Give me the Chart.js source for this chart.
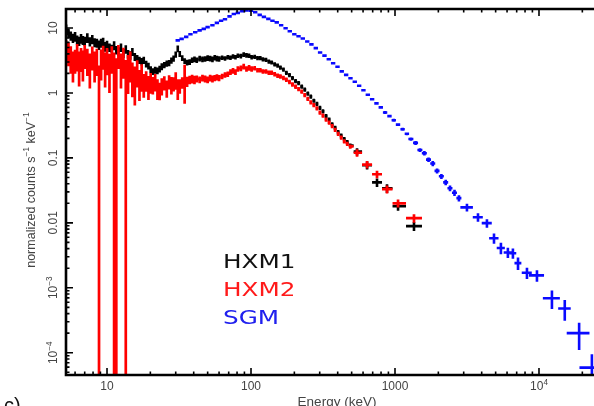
<!DOCTYPE html>
<html>
<head>
<meta charset="utf-8">
<title>HXM / SGM spectrum</title>
<script src="https://cdn.jsdelivr.net/npm/chart.js@4.4.1/dist/chart.umd.min.js"></script>
<style>
  html, body { margin: 0; padding: 0; background: #fff; overflow: hidden; }
  #wrap { width: 594px; height: 406px; }
</style>
</head>
<body>
<div id="wrap"><canvas id="spectrum" width="594" height="406"></canvas></div>
<script>
// HXM bin centres (keV), shared by both HXM detectors
const hxmEnergy = [
  5.2, 5.4, 5.6, 5.8, 6.0, 6.2, 6.4, 6.6, 6.8, 7.0,
  7.3, 7.6, 7.9, 8.2, 8.5, 8.8, 9.1, 9.4, 9.7,
  10, 10.4, 10.8, 11.2, 11.6, 12, 12.5, 13, 13.5, 14, 14.5,
  15, 15.6, 16.2, 16.8, 17.4, 18, 18.7, 19.4, 20.1, 20.8, 21.6, 22.4, 23.2, 24,
  25, 26, 27, 28, 29, 30, 31, 32,
  33.3, 34.6, 36, 37.5, 39, 40.5, 42, 44, 46, 48, 50, 52, 54, 56, 58, 60,
  63, 66, 69, 72, 75, 78, 81, 85, 89, 93, 97, 101,
  106, 111, 116, 121, 127, 133, 139, 146, 153, 160, 168, 176, 185, 194, 204, 214, 225,
  236, 248, 260, 273, 287, 301, 316, 332, 349, 366, 384, 403, 423, 444, 466, 489,
  545, 640, 750, 880, 1050, 1355
];

// normalized counts s^-1 keV^-1
const hxm1Counts = [
  9.6, 8.4, 7.6, 7.0, 7.4, 6.6, 6.3, 6.9, 6.5, 6.3,
  7.1, 6.2, 6.7, 6.0, 5.9, 5.5, 5.9, 6.1, 5.2,
  5.5, 5.0, 4.8, 5.4, 4.6, 4.4, 5.0, 4.1, 4.7, 4.0, 3.8,
  4.3, 3.6, 3.4, 3.2, 3.05, 3.2, 2.8, 2.6, 2.3, 2.15, 2.25, 2.2, 2.35, 2.55,
  2.7, 2.85, 2.9, 3.15, 3.4, 3.9, 4.8, 4.0,
  3.45, 3.1, 2.95, 3.0, 3.2, 3.3, 3.2, 3.4, 3.3, 3.35, 3.45, 3.4, 3.3, 3.5, 3.4, 3.35,
  3.5, 3.4, 3.55, 3.5, 3.65, 3.55, 3.75, 3.7, 3.9, 3.8, 3.75, 3.55,
  3.6, 3.45, 3.45, 3.3, 3.25, 3.05, 2.95, 2.75, 2.65, 2.45, 2.3, 2.05, 1.88, 1.7, 1.52, 1.42, 1.25,
  1.13, 0.98, 0.88, 0.76, 0.68, 0.59, 0.52, 0.44, 0.39, 0.33, 0.29, 0.25, 0.22, 0.195, 0.175, 0.155,
  0.125, 0.077, 0.042, 0.034, 0.018, 0.0089
];
// relative 1-sigma errors
const hxm1Err = [
  0.18, 0.17, 0.16, 0.16, 0.17, 0.16, 0.16, 0.17, 0.16, 0.16,
  0.17, 0.16, 0.16, 0.16, 0.16, 0.17, 0.16, 0.16, 0.17,
  0.16, 0.15, 0.15, 0.16, 0.15, 0.15, 0.15, 0.16, 0.15, 0.15, 0.15,
  0.14, 0.14, 0.13, 0.13, 0.13, 0.13, 0.12, 0.12, 0.12, 0.12, 0.12, 0.12, 0.12, 0.12,
  0.11, 0.11, 0.11, 0.11, 0.11, 0.11, 0.12, 0.11,
  0.1, 0.1, 0.1, 0.1, 0.1, 0.1, 0.1, 0.1, 0.1, 0.1, 0.1, 0.1, 0.1, 0.1, 0.1, 0.1,
  0.08, 0.08, 0.08, 0.08, 0.08, 0.08, 0.08, 0.08, 0.08, 0.08, 0.08, 0.08,
  0.075, 0.075, 0.075, 0.075, 0.075, 0.075, 0.075, 0.075, 0.075, 0.075, 0.075, 0.075, 0.075, 0.075, 0.075, 0.075, 0.075,
  0.075, 0.075, 0.075, 0.075, 0.075, 0.075, 0.075, 0.075, 0.075, 0.075, 0.075, 0.075, 0.075, 0.075, 0.075, 0.075,
  0.13, 0.14, 0.15, 0.15, 0.15, 0.16
];

const hxm2Counts = [
  4.8, 4.3, 3.6, 2.9, 3.3, 3.9, 2.8, 3.5, 3.0, 3.9,
  3.3, 2.6, 3.7, 2.9, 3.3, 0.42, 3.1, 3.8, 2.7,
  3.4, 2.5, 3.6, 1.0, 1.2, 3.9, 2.6, 3.3, 0.33, 2.4, 2.9,
  1.9, 1.6, 2.2, 1.5, 1.9, 1.4, 1.6, 1.3, 1.5, 1.35, 1.5, 1.2, 1.1, 1.3,
  1.45, 1.2, 1.5, 1.35, 1.4, 1.6, 1.2, 1.3,
  1.45, 1.7, 1.5, 1.6, 1.65, 1.6, 1.65, 1.6, 1.7, 1.65, 1.6, 1.7, 1.65, 1.7, 1.75, 1.7,
  1.8, 1.9, 1.95, 2.1, 2.2, 2.1, 2.35, 2.4, 2.55, 2.35, 2.45, 2.35,
  2.4, 2.25, 2.25, 2.15, 2.15, 2.05, 2.05, 1.95, 1.85, 1.8, 1.7, 1.6, 1.48, 1.35, 1.25, 1.15, 1.05,
  0.93, 0.81, 0.72, 0.65, 0.58, 0.5, 0.45, 0.39, 0.35, 0.31, 0.27, 0.235, 0.205, 0.18, 0.165, 0.15,
  0.12, 0.079, 0.056, 0.033, 0.020, 0.0118
];
const hxm2Err = [
  0.35, 0.4, 0.45, 0.5, 0.4, 0.45, 0.55, 0.4, 0.5, 0.4,
  0.45, 0.55, 0.4, 0.5, 0.45, 5.3, 0.5, 0.4, 0.55,
  0.45, 0.6, 0.45, 3.2, 1.85, 0.4, 0.55, 0.5, 8.7, 0.6, 0.5,
  0.55, 0.6, 0.45, 0.5, 0.45, 0.4, 0.35, 0.4, 0.35, 0.3, 0.3, 0.35, 0.3, 0.3,
  0.25, 0.3, 0.25, 0.3, 0.25, 0.3, 0.35, 0.25,
  0.2, 0.6, 0.18, 0.15, 0.15, 0.15, 0.12, 0.12, 0.12, 0.12, 0.12, 0.12, 0.12, 0.11, 0.11, 0.11,
  0.1, 0.1, 0.1, 0.1, 0.1, 0.1, 0.1, 0.1, 0.1, 0.1, 0.1, 0.1,
  0.08, 0.08, 0.08, 0.08, 0.08, 0.08, 0.08, 0.08, 0.08, 0.08, 0.08, 0.08, 0.08, 0.08, 0.08, 0.075, 0.075,
  0.075, 0.075, 0.075, 0.075, 0.075, 0.075, 0.075, 0.075, 0.075, 0.075, 0.075, 0.075, 0.075, 0.075, 0.075, 0.075,
  0.13, 0.13, 0.13, 0.14, 0.14, 0.15
];

const sgmEnergy = [
  31, 33, 35.5, 38, 41, 44, 47, 50, 54, 58,
  62, 66, 71, 76, 81, 87, 93, 100, 107, 115,
  123, 132, 141, 151, 162, 174, 186, 200, 214, 229,
  246, 263, 282, 302, 324, 347, 372, 399, 427, 458,
  491, 526, 564, 604, 648, 694, 744, 797,
  854, 916, 981, 1050, 1130, 1210,
  1290, 1390, 1490, 1600, 1710, 1830, 1960, 2100, 2250, 2410, 2590, 2780,
  3160, 3770, 4350, 4870, 5440, 6080, 6590, 7150, 8250, 9680, 12300, 15100, 19000, 23300
];
const sgmCounts = [
  6.45, 6.8, 7.3, 8.0, 8.6, 9.2, 9.7, 10.3, 11.0, 12.0,
  12.9, 13.6, 15.1, 16.4, 17.1, 18.1, 18.7, 18.4, 17.5, 15.9,
  14.8, 13.8, 12.9, 12.2, 11.0, 9.9, 8.9, 8.0, 7.45, 6.9,
  6.2, 5.6, 4.9, 4.2, 3.75, 3.3, 2.86, 2.53, 2.15, 1.9,
  1.68, 1.49, 1.29, 1.1, 0.94, 0.80, 0.69, 0.60,
  0.50, 0.44, 0.38, 0.325, 0.276, 0.235,
  0.195, 0.17, 0.132, 0.118, 0.094, 0.082, 0.063, 0.052, 0.042, 0.034, 0.029, 0.024,
  0.0173, 0.0122, 0.0099, 0.0058, 0.0041, 0.0035, 0.0034, 0.0024, 0.0017, 0.00155, 0.00069, 0.00048, 0.0002, 0.000059
];
const sgmErr = [
  0.045, 0.045, 0.045, 0.045, 0.045, 0.045, 0.045, 0.045, 0.045, 0.045,
  0.045, 0.045, 0.045, 0.045, 0.045, 0.045, 0.045, 0.045, 0.045, 0.045,
  0.045, 0.045, 0.045, 0.045, 0.045, 0.045, 0.045, 0.045, 0.045, 0.045,
  0.045, 0.045, 0.045, 0.045, 0.045, 0.045, 0.045, 0.045, 0.045, 0.045,
  0.045, 0.045, 0.045, 0.045, 0.045, 0.045, 0.045, 0.045,
  0.05, 0.05, 0.05, 0.05, 0.05, 0.05,
  0.06, 0.07, 0.07, 0.08, 0.08, 0.09, 0.09, 0.09, 0.1, 0.1, 0.11, 0.11,
  0.14, 0.15, 0.15, 0.18, 0.2, 0.18, 0.18, 0.22, 0.2, 0.2, 0.32, 0.35, 0.45, 0.6
];
// SGM energy half-widths, relative to the bin centre
const sgmXErr = [
  0.035, 0.035, 0.035, 0.035, 0.035, 0.035, 0.035, 0.035, 0.035, 0.035,
  0.035, 0.035, 0.035, 0.035, 0.035, 0.035, 0.035, 0.035, 0.035, 0.035,
  0.035, 0.035, 0.035, 0.035, 0.035, 0.035, 0.035, 0.035, 0.035, 0.035,
  0.035, 0.035, 0.035, 0.035, 0.035, 0.035, 0.035, 0.035, 0.035, 0.035,
  0.035, 0.035, 0.035, 0.035, 0.035, 0.035, 0.035, 0.035,
  0.035, 0.035, 0.035, 0.035, 0.035, 0.035,
  0.04, 0.04, 0.04, 0.04, 0.04, 0.04, 0.04, 0.04, 0.04, 0.04, 0.04, 0.04,
  0.1, 0.08, 0.08, 0.075, 0.065, 0.065, 0.055, 0.055, 0.08, 0.12, 0.135, 0.1, 0.18, 0.18
];

// axes
const xMin = 5.19, xMax = 24100;
const yMin = 4.54e-5, yMax = 19.6;
const xTicks = [10, 100, 1000, 10000];
const xTickLabels = ['10', '100', '1000', '10^{4}'];
const yTicks = [1e-4, 1e-3, 0.01, 0.1, 1, 10];
const yTickLabels = ['10^{−4}', '10^{−3}', '0.01', '0.1', '1', '10'];

function makePoints(energy, counts, err, xErr) {
  return energy.map((e, i) => ({
    x: e,
    y: counts[i],
    err: counts[i] * err[i],
    xErr: xErr ? e * xErr[i] : null
  }));
}

// splits "s^{-1}" style strings into normal / superscript runs
function richParts(str) {
  const parts = [];
  const re = /\^\{([^}]*)\}/g;
  let last = 0, m;
  while ((m = re.exec(str))) {
    if (m.index > last) parts.push({ t: str.slice(last, m.index), sup: false });
    parts.push({ t: m[1], sup: true });
    last = re.lastIndex;
  }
  if (last < str.length) parts.push({ t: str.slice(last), sup: false });
  return parts;
}

function drawRich(ctx, str, cx, cy, size) {
  const font = s => s + 'px "Liberation Sans", Arial, sans-serif';
  const supSize = size * 0.68;
  const parts = richParts(str);
  let total = 0;
  parts.forEach(p => {
    ctx.font = font(p.sup ? supSize : size);
    p.w = ctx.measureText(p.t).width;
    total += p.w;
  });
  let x = cx - total / 2;
  const base = cy + size * 0.36;
  ctx.textAlign = 'left';
  ctx.textBaseline = 'alphabetic';
  parts.forEach(p => {
    ctx.font = font(p.sup ? supSize : size);
    ctx.fillText(p.t, x, p.sup ? base - size * 0.42 : base);
    x += p.w;
  });
}

// crosses: energy bin horizontally, +/- error vertically
const errorBars = {
  id: 'errorBars',
  afterDatasetsDraw(chart) {
    const { ctx, chartArea: area } = chart;
    const xs = chart.scales.x, ys = chart.scales.y;
    ctx.save();
    ctx.beginPath();
    ctx.rect(area.left, area.top, area.right - area.left, area.bottom - area.top);
    ctx.clip();
    chart.data.datasets.forEach(ds => {
      const pts = ds.data;
      ctx.strokeStyle = ds.borderColor;
      ctx.lineWidth = ds.barWidth;
      ctx.lineCap = 'butt';
      ctx.beginPath();
      pts.forEach((p, i) => {
        let x0, x1;
        if (p.xErr !== null) {
          x0 = xs.getPixelForValue(p.x - p.xErr);
          x1 = xs.getPixelForValue(p.x + p.xErr);
        } else {
          // contiguous bins: edges halfway (in log) to the neighbours
          const lx = Math.log10(p.x);
          const prev = i > 0 ? Math.log10(pts[i - 1].x) : null;
          const next = i < pts.length - 1 ? Math.log10(pts[i + 1].x) : null;
          const dl = prev !== null ? (lx - prev) / 2 : (next - lx) / 2;
          const dr = next !== null ? (next - lx) / 2 : (lx - prev) / 2;
          x0 = xs.getPixelForValue(Math.pow(10, lx - dl));
          x1 = xs.getPixelForValue(Math.pow(10, lx + dr));
        }
        const px = xs.getPixelForValue(p.x);
        const py = ys.getPixelForValue(p.y);
        const top = ys.getPixelForValue(p.y + p.err);
        const lo = p.y - p.err;
        const bot = lo > 0 ? ys.getPixelForValue(lo) : area.bottom;
        ctx.moveTo(x0, py);
        ctx.lineTo(x1, py);
        ctx.moveTo(px, top);
        ctx.lineTo(px, bot);
      });
      ctx.stroke();
    });
    ctx.restore();
  }
};

function minorTicks(lo, hi) {
  const out = [];
  for (let d = Math.floor(Math.log10(lo)); d <= Math.ceil(Math.log10(hi)); d++) {
    for (let k = 1; k <= 9; k++) {
      const v = k * Math.pow(10, d);
      if (v >= lo && v <= hi) out.push({ v, major: k === 1 });
    }
  }
  return out;
}

// frame, inward ticks, labels, titles and the coloured legend
const frame = {
  id: 'frame',
  afterDraw(chart) {
    const { ctx, chartArea: area } = chart;
    const xs = chart.scales.x, ys = chart.scales.y;
    ctx.save();

    ctx.strokeStyle = '#000';
    ctx.lineWidth = 1.6;
    ctx.beginPath();
    minorTicks(xMin, xMax).forEach(t => {
      const px = xs.getPixelForValue(t.v);
      const len = t.major ? 7 : 3.5;
      ctx.moveTo(px, area.top);
      ctx.lineTo(px, area.top + len);
      ctx.moveTo(px, area.bottom);
      ctx.lineTo(px, area.bottom - len);
    });
    minorTicks(yMin, yMax).forEach(t => {
      const py = ys.getPixelForValue(t.v);
      const len = t.major ? 7 : 3.5;
      ctx.moveTo(area.left, py);
      ctx.lineTo(area.left + len, py);
    });
    ctx.stroke();

    ctx.lineWidth = 2.6;
    ctx.beginPath();
    ctx.moveTo(area.right + 2, area.top);
    ctx.lineTo(area.left, area.top);
    ctx.lineTo(area.left, area.bottom);
    ctx.lineTo(area.right + 2, area.bottom);
    ctx.stroke();

    ctx.fillStyle = '#444';
    xTicks.forEach((v, i) => {
      drawRich(ctx, xTickLabels[i], xs.getPixelForValue(v), 386, 12);
    });
    yTicks.forEach((v, i) => {
      ctx.save();
      ctx.translate(53, ys.getPixelForValue(v));
      ctx.rotate(-Math.PI / 2);
      drawRich(ctx, yTickLabels[i], 0, 0, 12);
      ctx.restore();
    });

    ctx.save();
    ctx.translate(30, 190);
    ctx.rotate(-Math.PI / 2);
    drawRich(ctx, 'normalized counts s^{−1} keV^{−1}', 0, 0, 12.5);
    ctx.restore();

    drawRich(ctx, 'Energy (keV)', 337, 401, 13.5);

    ctx.fillStyle = '#111';
    ctx.font = '20px "Liberation Sans", Arial, sans-serif';
    ctx.textAlign = 'left';
    ctx.textBaseline = 'alphabetic';
    ctx.fillText('c)', 4, 412);

    // legend text in the series colours
    const rows = [262, 290, 318];
    chart.data.datasets.forEach((ds, i) => {
      ctx.save();
      ctx.translate(223, rows[i]);
      ctx.scale(1.3, 1);
      ctx.fillStyle = ds.legendColor;
      ctx.font = '19px "DejaVu Sans", Verdana, sans-serif';
      ctx.textAlign = 'left';
      ctx.textBaseline = 'middle';
      ctx.fillText(ds.label, 0, 1);
      ctx.restore();
    });

    ctx.restore();
  }
};

new Chart(document.getElementById('spectrum'), {
  type: 'scatter',
  data: {
    datasets: [
      {
        label: 'HXM1',
        data: makePoints(hxmEnergy, hxm1Counts, hxm1Err, null),
        borderColor: '#000000',
        legendColor: '#111111',
        barWidth: 2.6,
        pointRadius: 0
      },
      {
        label: 'HXM2',
        data: makePoints(hxmEnergy, hxm2Counts, hxm2Err, null),
        borderColor: '#ff0000',
        legendColor: '#ff1a1a',
        barWidth: 2.7,
        pointRadius: 0
      },
      {
        label: 'SGM',
        data: makePoints(sgmEnergy, sgmCounts, sgmErr, sgmXErr),
        borderColor: '#0a0aff',
        legendColor: '#2020ee',
        barWidth: 2.6,
        pointRadius: 0
      }
    ]
  },
  options: {
    responsive: false,
    animation: false,
    events: [],
    layout: { padding: { left: 66, top: 9, right: 0, bottom: 31 } },
    scales: {
      x: { type: 'logarithmic', display: false, min: xMin, max: xMax },
      y: { type: 'logarithmic', display: false, min: yMin, max: yMax }
    },
    plugins: {
      legend: { display: false },
      tooltip: { enabled: false }
    }
  },
  plugins: [errorBars, frame]
});
</script>
</body>
</html>
